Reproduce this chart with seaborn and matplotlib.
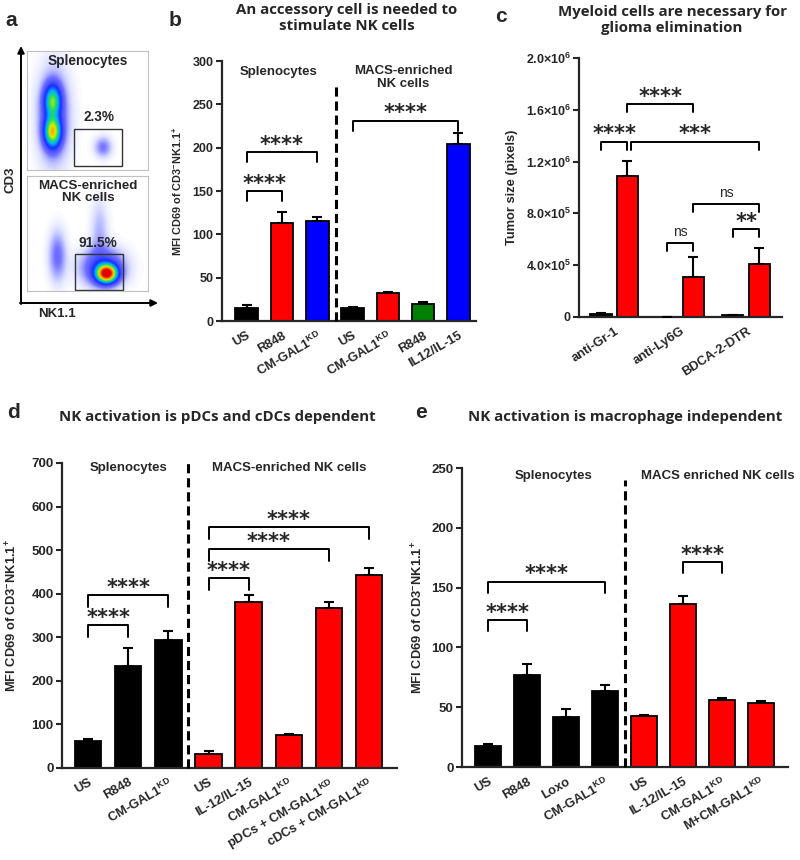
import numpy as np
import pandas as pd
import matplotlib
matplotlib.use('Agg')
import matplotlib.pyplot as plt
from matplotlib.colors import LinearSegmentedColormap
from matplotlib.patches import Rectangle
import seaborn as sns

# ---- panel a: flow populations (x, y, sx, sy, amplitude) in box units
a_top_pops = [(0.21, 0.58, 0.045, 0.09, 0.47), (0.21, 0.32, 0.045, 0.085, 0.62),
              (0.22, 0.45, 0.09, 0.27, 0.14), (0.63, 0.19, 0.05, 0.06, 0.10)]
a_bot_pops = [(0.25, 0.30, 0.05, 0.15, 0.11), (0.66, 0.15, 0.055, 0.05, 1.0),
              (0.63, 0.20, 0.12, 0.11, 0.20), (0.60, 0.50, 0.05, 0.20, 0.06)]
a_top_gate = '2.3%'
a_bot_gate = '91.5%'

# ---- panel b
b_keys = ['spl_US', 'spl_R848', 'spl_CM', 'nk_US', 'nk_CM', 'nk_R848', 'nk_IL']
b_labels = ['US', 'R848', 'CM-GAL1$^{KD}$', 'US', 'CM-GAL1$^{KD}$', 'R848', 'IL12/IL-15']
b_mean = [15, 113, 116, 15, 32, 19.5, 204]
b_err = [3.5, 13, 3.5, 1.5, 1.5, 2, 13]
b_colors = ['black', 'red', 'blue', 'black', 'red', 'green', 'blue']
b_sig = [(0, 1, 150, '****'), (0, 2, 195, '****'), (3, 6, 231, '****')]

# ---- panel c
c_groups = ['anti-Gr-1', 'anti-Ly6G', 'BDCA-2-DTR']
c_ctrl = [2.0e4, 0, 1.3e4]
c_ctrl_err = [1.0e4, 0, 5e3]
c_dep = [1.09e6, 3.05e5, 4.08e5]
c_dep_err = [1.15e5, 1.6e5, 1.22e5]
c_sig = [((0, 0), (0, 1), 1.355e6, '****'), ((0, 1), (1, 1), 1.645e6, '****'),
         ((0, 1), (2, 1), 1.355e6, '***'), ((1, 0), (1, 1), 5.75e5, 'ns'),
         ((1, 1), (2, 1), 8.72e5, 'ns'), ((2, 0), (2, 1), 6.79e5, '**')]

# ---- panel d
d_keys = ['spl_US', 'spl_R848', 'spl_CM', 'nk_US', 'nk_IL', 'nk_CM', 'nk_pDC', 'nk_cDC']
d_labels = ['US', 'R848', 'CM-GAL1$^{KD}$', 'US', 'IL-12/IL-15', 'CM-GAL1$^{KD}$',
            'pDCs + CM-GAL1$^{KD}$', 'cDCs + CM-GAL1$^{KD}$']
d_mean = [61, 234, 293, 33, 380, 75, 367, 442]
d_err = [5, 41, 22, 5, 16, 3, 15, 17]
d_colors = ['black'] * 3 + ['red'] * 5
d_sig = [(0, 1, 328, '****'), (0, 2, 397, '****'), (3, 4, 435, '****'),
         (3, 6, 502, '****'), (3, 7, 553, '****')]

# ---- panel e
e_keys = ['spl_US', 'spl_R848', 'spl_Loxo', 'spl_CM', 'nk_US', 'nk_IL', 'nk_CM', 'nk_M']
e_labels = ['US', 'R848', 'Loxo', 'CM-GAL1$^{KD}$', 'US', 'IL-12/IL-15',
            'CM-GAL1$^{KD}$', 'M+CM-GAL1$^{KD}$']
e_mean = [17.8, 77, 41.5, 63.8, 42.9, 136.3, 56, 53.5]
e_err = [1.7, 9, 7, 4.5, 1, 7, 1.4, 1.4]
e_colors = ['black'] * 4 + ['red'] * 4
e_sig = [(0, 1, 123, '****'), (0, 3, 155, '****'), (5, 6, 171.4, '****')]

sns.set_theme(style='ticks')
plt.rcParams['font.family'] = ['Liberation Sans', 'DejaVu Sans']
plt.rcParams['font.weight'] = 'bold'
plt.rcParams['axes.labelweight'] = 'bold'
plt.rcParams['mathtext.fontset'] = 'custom'
plt.rcParams['mathtext.rm'] = 'Liberation Sans:bold'
plt.rcParams['mathtext.it'] = 'Liberation Sans:bold'
plt.rcParams['mathtext.bf'] = 'Liberation Sans:bold'
plt.rcParams['mathtext.default'] = 'regular'

fig = plt.figure(figsize=(8, 8.6), dpi=100)
ylab = 'MFI CD69 of CD3$^{-}$NK1.1$^{+}$'


def style_axis(ax, fs):
    sns.despine(ax=ax)
    for s in ['left', 'bottom']:
        ax.spines[s].set_linewidth(1.6)
    ax.tick_params(axis='both', width=1.5, length=4, labelsize=fs, pad=2)
    for t in ax.get_yticklabels():
        t.set_fontweight('bold')


def bracket(ax, x1, x2, y, label, tick):
    ax.plot([x1, x1, x2, x2], [y - tick, y, y, y - tick], color='black', lw=1.4,
            clip_on=False, zorder=5)
    if label == 'ns':
        ax.annotate(label, ((x1 + x2) / 2, y), xytext=(0, 5), textcoords='offset points',
                    ha='center', va='baseline', fontsize=10, fontweight='normal',
                    annotation_clip=False)
    else:
        ax.annotate(label, ((x1 + x2) / 2, y), xytext=(0, 1), textcoords='offset points',
                    ha='center', va='baseline', fontsize=15, fontweight='bold',
                    family='DejaVu Sans', annotation_clip=False)


def bar_panel(rect, keys, labels, mean, err, colors, sig, ylim, step, xlim, width,
              split, dash_top, sections, fs, xfs, yfs):
    ax = fig.add_axes(rect)
    df = pd.DataFrame({'key': keys, 'mean': mean})
    sns.barplot(data=df, x='key', y='mean', hue='key', order=keys, hue_order=keys,
                palette=dict(zip(keys, colors)), dodge=False, legend=False, width=width,
                saturation=1, edgecolor='black', linewidth=1.3, errorbar=None, ax=ax)
    xs = np.arange(len(keys))
    ax.errorbar(xs, mean, yerr=[np.zeros(len(err)), err], fmt='none', ecolor='black',
                elinewidth=1.5, capsize=3.5, capthick=1.5, zorder=4)
    ax.set_ylim(0, ylim)
    ax.set_yticks(np.arange(0, ylim + 1, step))
    ax.set_xlim(*xlim)
    ax.set_xticks(xs)
    ax.set_xlabel('')
    ax.set_ylabel(ylab, fontsize=yfs)
    style_axis(ax, fs)
    ax.set_xticklabels(labels, rotation=30, ha='right', va='top', rotation_mode='anchor',
                       fontweight='bold', fontsize=xfs)
    ax.tick_params(axis='x', length=0, pad=6)
    ax.plot([split, split], [0, dash_top], color='black', lw=2.2, dashes=[3, 1.6],
            clip_on=False, zorder=3)
    tick = ylim * 0.038
    for i, j, y, lab in sig:
        bracket(ax, i, j, y, lab, tick)
    for x, y, txt in sections:
        ax.text(x, y, txt, ha='center', va='center', fontsize=9.5, fontweight='bold',
                linespacing=1.15)
    return ax


# ---- b
axb = bar_panel([0.2775, 0.6267, 0.3175, 0.3023], b_keys, b_labels, b_mean, b_err,
                b_colors, b_sig, 300, 50, (-0.7, 6.5), 0.64, 2.52, 274,
                [(0.9, 287, 'Splenocytes'), (4.43, 281, 'MACS-enriched\nNK cells')],
                9, 9.3, 7.8)
axb.yaxis.set_label_coords(-0.15, 0.5)

# ---- c
axc = fig.add_axes([0.724, 0.6314, 0.254, 0.3012])
df_c = pd.DataFrame({'group': c_groups * 2, 'cond': ['ctrl'] * 3 + ['dep'] * 3,
                     'val': c_ctrl + c_dep})
sns.barplot(data=df_c, x='group', y='val', hue='cond', order=c_groups,
            hue_order=['ctrl', 'dep'], palette={'ctrl': 'black', 'dep': 'red'},
            width=0.8, gap=0.2, legend=False, saturation=1, edgecolor='black',
            linewidth=1.3, errorbar=None, ax=axc)
gx = np.arange(len(c_groups))
axc.errorbar(gx - 0.2, c_ctrl, yerr=[np.zeros(3), c_ctrl_err], fmt='none', ecolor='black',
             elinewidth=1.5, capsize=3.5, capthick=1.5, zorder=4)
axc.errorbar(gx + 0.2, c_dep, yerr=[np.zeros(3), c_dep_err], fmt='none', ecolor='black',
             elinewidth=1.5, capsize=3.5, capthick=1.5, zorder=4)
axc.set_ylim(0, 2.0e6)
cticks = [0, 4e5, 8e5, 1.2e6, 1.6e6, 2.0e6]
axc.set_yticks(cticks)
axc.set_yticklabels(['0', '4.0×10$^{5}$', '8.0×10$^{5}$', '1.2×10$^{6}$', '1.6×10$^{6}$',
                     '2.0×10$^{6}$'])
axc.set_xlim(-0.53, 2.55)
axc.set_xticks(gx)
axc.set_xlabel('')
axc.set_ylabel('Tumor size (pixels)', fontsize=9.3)
axc.yaxis.set_label_coords(-0.30, 0.5)
style_axis(axc, 9)
axc.set_xticklabels(c_groups, rotation=33, ha='right', va='top', rotation_mode='anchor',
                    fontweight='bold', fontsize=9.3)
axc.tick_params(axis='x', length=0, pad=6)
for (g1, h1), (g2, h2), y, lab in c_sig:
    x1 = g1 + (0.4 * h1 - 0.2)
    x2 = g2 + (0.4 * h2 - 0.2)
    if lab == '***':
        x1 += 0.06
    bracket(axc, x1, x2, y, lab, 6.5e4)

# ---- d
axd = bar_panel([0.0775, 0.107, 0.419, 0.3547], d_keys, d_labels, d_mean, d_err,
                d_colors, d_sig, 700, 100, (-0.65, 7.7), 0.66, 2.5, 700,
                [(1.0, 689, 'Splenocytes'), (5.0, 689, 'MACS-enriched NK cells')],
                9.5, 9.3, 9.3)
axd.yaxis.set_label_coords(-0.125, 0.5)

# ---- e
axe = bar_panel([0.5775, 0.1081, 0.4075, 0.3477], e_keys, e_labels, e_mean, e_err,
                e_colors, e_sig, 250, 50, (-0.67, 7.7), 0.66, 3.52, 240,
                [(1.67, 243.6, 'Splenocytes'), (5.9, 243.6, 'MACS enriched NK cells')],
                9.5, 9.3, 9.3)
axe.yaxis.set_label_coords(-0.113, 0.5)

# ---- a: flow density boxes
flow_cmap = LinearSegmentedColormap.from_list(
    'flow', [(0, 'white'), (0.03, '#dde0ff'), (0.1, '#7070ff'), (0.25, '#1a2cff'),
             (0.4, '#00b4ff'), (0.52, '#20dc60'), (0.66, '#d8f000'), (0.8, '#ff9000'),
             (1.0, '#e00000')])


def flow_box(rect, pops, gate):
    ax = fig.add_axes(rect)
    g = np.linspace(0, 1, 200)
    X, Y = np.meshgrid(g, g)
    Z = np.zeros_like(X)
    for x, y, sx, sy, a in pops:
        Z += a * np.exp(-((X - x) ** 2 / (2 * sx ** 2) + (Y - y) ** 2 / (2 * sy ** 2)))
    ax.imshow(Z, origin='lower', extent=(0, 1, 0, 1), cmap=flow_cmap, vmin=0, vmax=1,
              aspect='auto', interpolation='bilinear')
    ax.add_patch(Rectangle((gate[0], gate[1]), gate[2] - gate[0], gate[3] - gate[1],
                           fill=False, ec='#333333', lw=1.0))
    ax.set_xticks([])
    ax.set_yticks([])
    for s in ax.spines.values():
        s.set_color('#c0c0c0')
        s.set_linewidth(0.8)
    return ax


flow_box([27 / 800, 1 - 170 / 860, 121 / 800, 119 / 860], a_top_pops, (0.39, 0.034, 0.785, 0.345))
flow_box([27 / 800, 1 - 291 / 860, 121 / 800, 115 / 860], a_bot_pops, (0.40, 0.01, 0.79, 0.32))

# ---- overlay for figure-level text and arrows (pixel coordinates)
ov = fig.add_axes([0, 0, 1, 1], zorder=10)
ov.set_xlim(0, 800)
ov.set_ylim(860, 0)
ov.axis('off')
ov.patch.set_alpha(0)

ov.annotate('', xy=(21, 46), xytext=(21, 304),
            arrowprops=dict(arrowstyle='-|>', lw=1.4, color='black', mutation_scale=10,
                            shrinkA=0, shrinkB=0))
ov.annotate('', xy=(158, 303), xytext=(20, 303),
            arrowprops=dict(arrowstyle='-|>', lw=1.4, color='black', mutation_scale=10,
                            shrinkA=0, shrinkB=0))
ov.text(10, 180, 'CD3', rotation=90, ha='center', va='center', fontsize=9.5)
ov.text(57, 314, 'NK1.1', ha='center', va='center', fontsize=9.5)
ov.text(88, 61, 'Splenocytes', ha='center', va='center', fontsize=9.8)
ov.text(99, 117, a_top_gate, ha='center', va='center', fontsize=9.8)
ov.text(88, 192, 'MACS-enriched\nNK cells', ha='center', va='center', fontsize=9.6,
        linespacing=1.1)
ov.text(98, 243, a_bot_gate, ha='center', va='center', fontsize=9.8)

for x, y, lab in [(11, 20, 'a'), (175, 20, 'b'), (501, 17, 'c'), (13, 413, 'd'),
                  (421, 413, 'e')]:
    ov.text(x, y, lab, ha='center', va='center', fontsize=15, fontweight='bold')

title_kw = dict(ha='center', va='center', fontsize=10.8, fontweight='bold',
                family=['Open Sans', 'DejaVu Sans'])
ov.text(347, 18, 'An accessory cell is needed to\nstimulate NK cells', linespacing=1.25,
        **title_kw)
ov.text(672, 20, 'Myeloid cells are necessary for\nglioma elimination', linespacing=1.25,
        **title_kw)
ov.text(217, 417, 'NK activation is pDCs and cDCs dependent', **title_kw)
ov.text(625, 417, 'NK activation is macrophage independent', **title_kw)

plt.savefig('out.png', dpi=100)
